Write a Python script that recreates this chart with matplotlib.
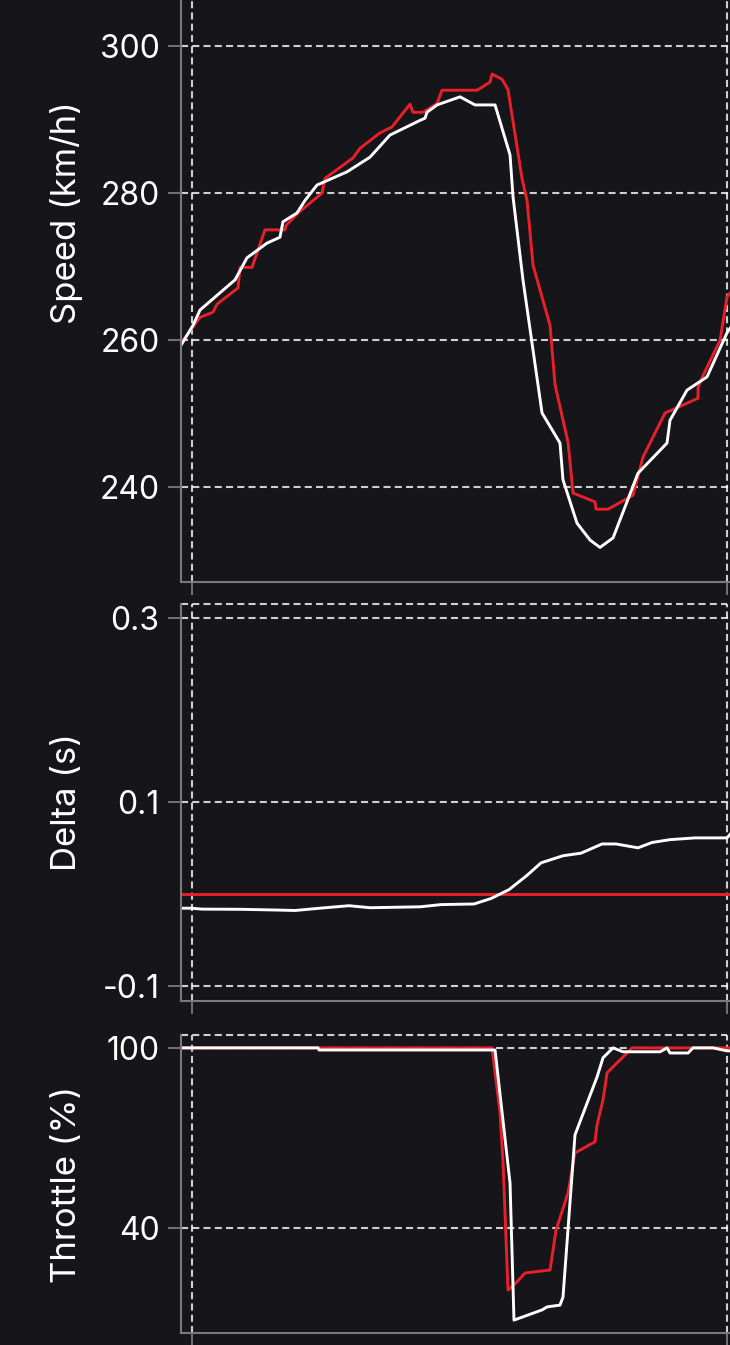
import numpy as np
import matplotlib.pyplot as plt

plt.rcParams['font.family'] = ['Inter', 'DejaVu Sans']

bg = '#15151a'
red = '#e8202a'
white = '#ffffff'
spine_col = '#7a7a7a'

# speed trace, red car
red_speed_dist = [989.7, 1007.5, 1019.6, 1023.4, 1043.0, 1044.9, 1056.1, 1068.2, 1086.9, 1087.9,
                  1099.1, 1121.5, 1124.3, 1150.5, 1157.0, 1175.7, 1186.9, 1203.7, 1206.5, 1215.9,
                  1229.0, 1233.6, 1266.4, 1278.5, 1280.4, 1289.7, 1295.3, 1308.4, 1313.1, 1318.7,
                  1334.6, 1339.3, 1351.4, 1356.1, 1376.6, 1377.6, 1388.8, 1412.1, 1421.5, 1442.1,
                  1448.6, 1472.9, 1473.0, 1477.6, 1493.5, 1500.0, 1502.8]
red_speed = [259.6, 263.1, 263.8, 264.9, 267.1, 269.9, 269.9, 275.0, 275.0, 275.6,
             277.3, 280.0, 282.0, 284.8, 286.1, 288.2, 289.0, 292.1, 291.0, 291.0,
             292.2, 294.0, 294.0, 295.1, 296.2, 295.5, 294.1, 282.0, 279.0, 270.2,
             262.0, 253.9, 246.1, 239.2, 238.0, 237.0, 237.0, 238.9, 244.1, 250.1,
             250.5, 252.1, 253.6, 255.2, 260.0, 265.9, 266.4]

# speed trace, white car
white_speed_dist = [989.7, 1000.9, 1007.5, 1040.2, 1051.4, 1070.1, 1082.2, 1085.0, 1098.1, 1105.6,
                    1116.8, 1144.9, 1166.4, 1185.0, 1213.1, 1217.8, 1219.6, 1229.0, 1250.5, 1264.5,
                    1283.2, 1297.2, 1300.0, 1309.3, 1327.1, 1343.9, 1346.7, 1359.8, 1372.0, 1381.3,
                    1393.5, 1416.8, 1443.9, 1446.7, 1462.6, 1481.3, 1500.0, 1502.8]
white_speed = [259.3, 262.0, 264.1, 268.2, 271.2, 273.2, 274.0, 276.1, 277.3, 279.0,
               281.1, 282.9, 284.9, 287.9, 289.9, 290.2, 291.0, 292.0, 293.1, 292.0,
               292.0, 285.2, 279.5, 268.2, 250.1, 246.0, 241.0, 235.1, 232.8, 231.8,
               233.1, 241.9, 246.0, 249.1, 253.2, 255.0, 261.0, 261.6]

# gap to the reference lap (red is the reference)
red_delta_dist = [989.7, 1502.8]
red_delta = [0.0, 0.0]
white_delta_dist = [989.7, 999.4, 1009.3, 1045.8, 1079.4, 1096.3, 1119.6, 1146.7, 1166.4, 1213.1,
                    1232.7, 1263.6, 1279.4, 1296.3, 1313.1, 1326.2, 1346.7, 1363.6, 1383.2, 1396.3,
                    1416.8, 1429.9, 1446.7, 1470.1, 1500.0, 1502.8]
white_delta = [-0.0155, -0.0155, -0.0165, -0.0167, -0.0175, -0.0180, -0.0155, -0.0128, -0.0150, -0.0140,
               -0.0116, -0.0109, -0.0050, 0.0047, 0.0202, 0.0338, 0.0415, 0.0443, 0.0543, 0.0543,
               0.0501, 0.0559, 0.0590, 0.0609, 0.0609, 0.0648]

# throttle
red_thr_dist = [989.7, 1280.4, 1287.9, 1290.7, 1295.3, 1302.8, 1311.2, 1334.6, 1340.2, 1351.4,
                1357.9, 1376.6, 1378.5, 1384.1, 1387.9, 1406.5, 1411.2, 1502.8]
red_thr = [100, 100, 78.3, 61.7, 19.3, 21.7, 25.0, 26.0, 39.3, 51.7,
           65.0, 68.7, 74.3, 82.7, 91.7, 98.3, 100, 100]
white_thr_dist = [989.7, 1117.8, 1118.7, 1283.2, 1297.2, 1300.9, 1327.1, 1331.8, 1343.9, 1346.7,
                  1357.9, 1378.5, 1384.1, 1393.5, 1402.8, 1409.3, 1437.4, 1443.9, 1446.7, 1463.6,
                  1468.2, 1486.9, 1500.0, 1502.8]
white_thr = [100, 100, 99.3, 99.3, 55.0, 9.3, 12.7, 13.7, 14.3, 17.0,
             71.0, 90.3, 96.7, 100, 98.7, 98.7, 98.7, 100, 98.3, 98.3,
             100, 100, 99.0, 99.0]

x_ticks = [1000, 1500]
speed_ticks = [240, 260, 280, 300]
delta_ticks = [-0.1, 0.1, 0.3]
thr_ticks = [40, 100]

fig = plt.figure(figsize=(7.3, 13.45), dpi=100, facecolor=bg)
ax1 = fig.add_axes([0.2479, 0.5673, 0.7932, 0.5487])
ax2 = fig.add_axes([0.2479, 0.2558, 0.7932, 0.2952], sharex=ax1)
ax3 = fig.add_axes([0.2479, 0.0089, 0.7932, 0.2216], sharex=ax1)

ax1.plot(red_speed_dist, red_speed, color=red, lw=2.1)
ax1.plot(white_speed_dist, white_speed, color=white, lw=2.1)
ax2.plot(red_delta_dist, red_delta, color=red, lw=2.1)
ax2.plot(white_delta_dist, white_delta, color=white, lw=2.1)
ax3.plot(red_thr_dist, red_thr, color=red, lw=2.1)
ax3.plot(white_thr_dist, white_thr, color=white, lw=2.1)

ax1.set_xlim(989.7, 1530.8)
ax1.set_ylim(227.1, 327.5)
ax2.set_ylim(-0.1163, 0.3152)
ax3.set_ylim(5.0, 104.3)

ax1.set_yticks(speed_ticks)
ax2.set_yticks(delta_ticks)
ax2.set_yticklabels(['-0.1', '0.1', '0.3'])
ax3.set_yticks(thr_ticks)
ax1.set_xticks(x_ticks)

labels = ['Speed (km/h)', 'Delta (s)', 'Throttle (%)']
dash = (0, (3.4, 2.0))
for ax, lab in zip([ax1, ax2, ax3], labels):
    ax.set_facecolor(bg)
    for s in ['top', 'right']:
        ax.spines[s].set_visible(False)
    for s in ['left', 'bottom']:
        ax.spines[s].set_color(spine_col)
        ax.spines[s].set_linewidth(1.5)
    ax.tick_params(colors=spine_col, labelcolor=white, length=9.5, width=1.3,
                   labelsize=23, pad=6, labelbottom=False)
    ax.grid(True, color=white, alpha=0.8, lw=1.5, linestyle=dash)
    ax.set_axisbelow(True)
    ax.set_ylabel(lab, color=white, fontsize=25)
    ax.yaxis.set_label_coords(-0.17, 0.5)

# dashed frame top of the lower panels
for ax in [ax2, ax3]:
    frac = (1500 - 989.7) / (1530.8 - 989.7)
    ax.axhline(ax.get_ylim()[1], xmax=frac, color=white, alpha=0.8, lw=1.5,
               linestyle=dash, clip_on=False)

fig.savefig('out.png', dpi=100, facecolor=bg)
